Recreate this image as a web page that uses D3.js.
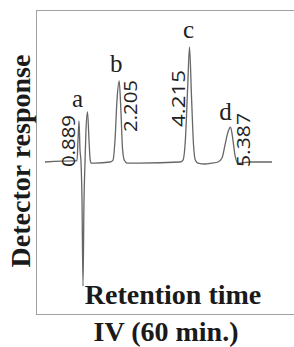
<!DOCTYPE html>
<html>
<head>
<meta charset="utf-8">
<script src="https://d3js.org/d3.v7.min.js"></script>
<style>
  body { margin: 0; background: #fff; }
  svg { display: block; }
</style>
</head>
<body>
<div id="viz"></div>
<script>
//chromatogram trace: retention time (min) and detector response
const traceTimes = [0.086, 0.914, 1.0, 1.029, 1.057, 1.086, 1.114, 1.143, 1.171, 1.2, 1.229,
  1.257, 1.3, 1.343, 1.371, 1.4, 1.514, 1.943, 2.029, 2.086, 2.143, 2.205, 2.25, 2.3,
  2.35, 2.429, 2.8, 3.943, 4.029, 4.1, 4.16, 4.215, 4.27, 4.33, 4.38, 4.457, 4.657,
  4.857, 5.029, 5.143, 5.229, 5.314, 5.387, 5.44, 5.514, 5.6, 5.943, 6.571];
const traceValues = [0, 0.007, 0.007, 0.145, 0.27, 0.079, 0, -0.25, -0.816, -0.25, 0,
  0.21, 0.33, 0.145, 0.026, -0.007, -0.007, 0, 0.013, 0.145, 0.408, 0.533, 0.36, 0.09,
  0.013, -0.007, -0.007, 0, 0.013, 0.16, 0.48, 0.757, 0.44, 0.11, 0.013, -0.007, -0.013,
  -0.007, 0, 0.026, 0.112, 0.197, 0.23, 0.17, 0.046, -0.007, 0, 0];

//peak names and the retention times printed next to them
const peakNames = ["a", "b", "c", "d"];
const peakLabels = ["0.889", "2.205", "4.215", "5.387"];
//where each peak apex sits (time, response)
const peakTimes = [1.3, 2.205, 4.215, 5.387];
const peakValues = [0.33, 0.533, 0.757, 0.23];

const width = 294, height = 347;
const svg = d3.select("#viz")
  .append("svg")
  .attr("width", width)
  .attr("height", height);

//plot frame (left, top, bottom lines; right side runs off the page)
const frame = { left: 36, top: 10, bottom: 314 };

const x = d3.scaleLinear().domain([0, 7]).range([42, 287]);
const y = d3.scaleLinear().domain([-1, 1]).range([frame.bottom, frame.top]);

svg.append("rect")
  .attr("x", frame.left + 0.5)
  .attr("y", frame.top + 0.5)
  .attr("width", 300)
  .attr("height", frame.bottom - frame.top)
  .attr("fill", "none")
  .attr("stroke", "#a0a0a0")
  .attr("stroke-width", 1);

//the trace
const points = traceTimes.map((t, i) => [t, traceValues[i]]);
const line = d3.line()
  .x(d => x(d[0]))
  .y(d => y(d[1]))
  .curve(d3.curveMonotoneX);

svg.append("path")
  .datum(points)
  .attr("d", line)
  .attr("fill", "none")
  .attr("stroke", "#666")
  .attr("stroke-width", 1.3);

//peak letters above each apex
const letterDx = [-10, -3, -1, -5];
const letterDy = [-5, -9, -9, -7];
svg.selectAll("text.peakName")
  .data(peakNames)
  .enter()
  .append("text")
  .attr("class", "peakName")
  .attr("x", (d, i) => x(peakTimes[i]) + letterDx[i])
  .attr("y", (d, i) => y(peakValues[i]) + letterDy[i])
  .attr("text-anchor", "middle")
  .attr("font-family", "'Liberation Serif', 'Times New Roman', serif")
  .attr("font-size", 25)
  .attr("fill", "#222")
  .text(d => d);

//rotated retention time labels (baseline x, start y, length)
const labelX = [75, 137, 185, 250];
const labelY = [167, 132, 127, 167];
const labelLen = [52, 52, 57, 54];
svg.selectAll("text.peakTime")
  .data(peakLabels)
  .enter()
  .append("text")
  .attr("class", "peakTime")
  .attr("transform", (d, i) => `translate(${labelX[i]},${labelY[i]}) rotate(-90)`)
  .attr("font-family", "'Open Sans', sans-serif")
  .attr("font-size", 19)
  .attr("textLength", (d, i) => labelLen[i])
  .attr("lengthAdjust", "spacingAndGlyphs")
  .attr("fill", "#222")
  .text(d => d);

//axis titles
svg.append("text")
  .attr("transform", "translate(30,161) rotate(-90)")
  .attr("text-anchor", "middle")
  .attr("font-family", "'Liberation Serif', 'Times New Roman', serif")
  .attr("font-weight", "bold")
  .attr("font-size", 28)
  .attr("fill", "#1a1a1a")
  .text("Detector response");

svg.append("text")
  .attr("x", 173)
  .attr("y", 304)
  .attr("text-anchor", "middle")
  .attr("font-family", "'Liberation Serif', 'Times New Roman', serif")
  .attr("font-weight", "bold")
  .attr("font-size", 28)
  .attr("fill", "#1a1a1a")
  .text("Retention time");

svg.append("text")
  .attr("x", 166)
  .attr("y", 341)
  .attr("text-anchor", "middle")
  .attr("font-family", "'Liberation Serif', 'Times New Roman', serif")
  .attr("font-weight", "bold")
  .attr("font-size", 28)
  .attr("fill", "#1a1a1a")
  .text("IV (60 min.)");
</script>
</body>
</html>
